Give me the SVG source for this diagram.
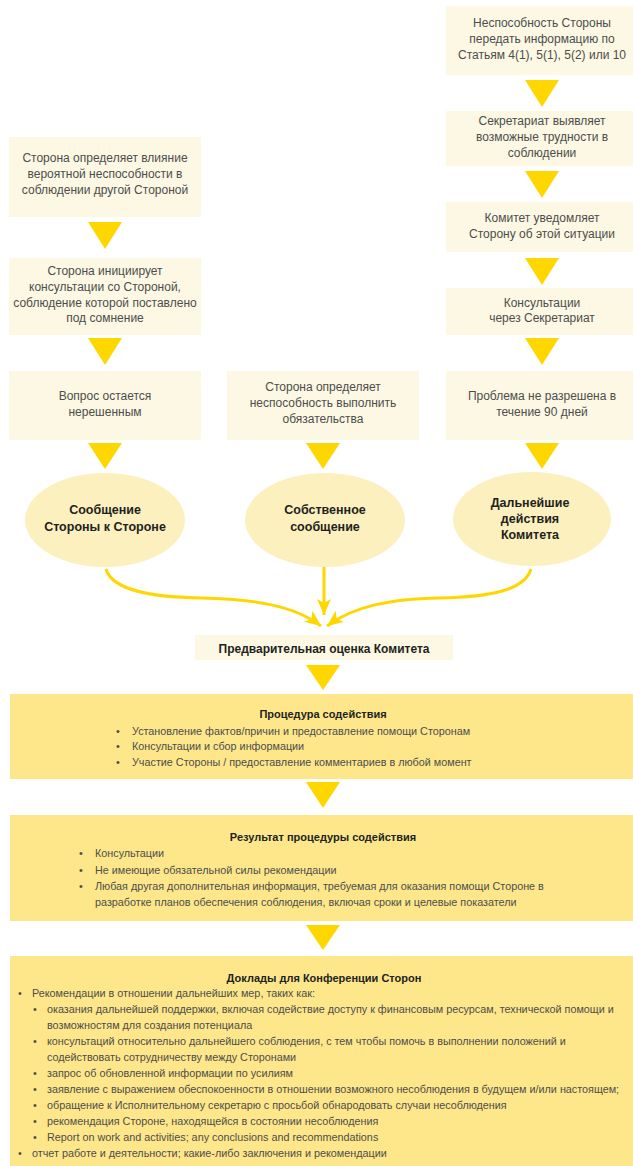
<svg xmlns="http://www.w3.org/2000/svg" width="633" height="1166" viewBox="0 0 633 1166">
<defs>
<style>
.box{fill:#FCF8E3}
.ell{fill:#FBF0BE}
.big{fill:#FDE78A}
.tri{fill:#FFD700}
.t{font-family:"Liberation Sans",Arial,sans-serif;font-size:12px;fill:#4d4d4d;text-anchor:middle}
.b{font-family:"Liberation Sans",Arial,sans-serif;font-size:12.5px;font-weight:bold;fill:#231f20;text-anchor:middle}
.h{font-family:"Liberation Sans",Arial,sans-serif;font-size:11px;font-weight:bold;fill:#231f20;text-anchor:middle}
.l{font-family:"Liberation Sans",Arial,sans-serif;font-size:10.8px;fill:#4d4d4d}
.conn{fill:none;stroke:#FFD700;stroke-width:3}
</style>
<marker id="arr" markerUnits="userSpaceOnUse" markerWidth="18" markerHeight="16" refX="16" refY="7" orient="auto">
<path d="M0,0 L16,7 L0,14 L4,7 Z" fill="#FFD700"/>
</marker>
</defs>
<rect width="633" height="1166" fill="#ffffff"/>

<g id="r1">
<rect class="box" x="446" y="6" width="192" height="69"/>
<text class="t" x="542" y="27">Неспособность Стороны</text>
<text class="t" x="542" y="43">передать информацию по</text>
<text class="t" x="542" y="59">Статьям 4(1), 5(1), 5(2) или 10</text>
</g>
<polygon class="tri" points="525,80 559,80 542,107"/>
<g id="r2">
<rect class="box" x="446" y="111" width="192" height="55"/>
<text class="t" x="542" y="125">Секретариат выявляет</text>
<text class="t" x="542" y="141">возможные трудности в</text>
<text class="t" x="542" y="157">соблюдении</text>
</g>
<polygon class="tri" points="525,171 559,171 542,198"/>
<g id="r3">
<rect class="box" x="446" y="202" width="192" height="50"/>
<text class="t" x="542" y="222">Комитет уведомляет</text>
<text class="t" x="542" y="238">Сторону об этой ситуации</text>
</g>
<polygon class="tri" points="525,258 559,258 542,285"/>
<g id="r4">
<rect class="box" x="446" y="288" width="192" height="47"/>
<text class="t" x="542" y="307">Консультации</text>
<text class="t" x="542" y="322">через Секретариат</text>
</g>
<polygon class="tri" points="525,338 559,338 542,365"/>
<g id="r5">
<rect class="box" x="446" y="371" width="192" height="69"/>
<text class="t" x="542" y="400">Проблема не разрешена в</text>
<text class="t" x="542" y="416">течение 90 дней</text>
</g>
<polygon class="tri" points="525,443 559,443 542,469"/>

<g id="l1">
<rect class="box" x="9" y="137" width="192" height="80"/>
<text class="t" x="105" y="162">Сторона определяет влияние</text>
<text class="t" x="105" y="178">вероятной неспособности в</text>
<text class="t" x="105" y="194">соблюдении другой Стороной</text>
</g>
<polygon class="tri" points="88,222 122,222 105,249"/>
<g id="l2">
<rect class="box" x="9" y="258" width="192" height="77"/>
<text class="t" x="105" y="275">Сторона инициирует</text>
<text class="t" x="105" y="291">консультации со Стороной,</text>
<text class="t" x="105" y="307">соблюдение которой поставлено</text>
<text class="t" x="105" y="322">под сомнение</text>
</g>
<polygon class="tri" points="88,338 122,338 105,365"/>
<g id="l3">
<rect class="box" x="9" y="371" width="192" height="69"/>
<text class="t" x="105" y="400">Вопрос остается</text>
<text class="t" x="105" y="416">нерешенным</text>
</g>
<polygon class="tri" points="88,443 122,443 105,469"/>

<g id="m1">
<rect class="box" x="227" y="371" width="192" height="69"/>
<text class="t" x="323" y="391">Сторона определяет</text>
<text class="t" x="323" y="407">неспособность выполнить</text>
<text class="t" x="323" y="423">обязательства</text>
</g>
<polygon class="tri" points="306,443 340,443 323,469"/>

<g id="e1">
<ellipse class="ell" cx="105" cy="520" rx="80" ry="47"/>
<text class="b" x="105" y="514">Сообщение</text>
<text class="b" x="105" y="531">Стороны к Стороне</text>
</g>
<g id="e2">
<ellipse class="ell" cx="325" cy="520" rx="80" ry="47"/>
<text class="b" x="325" y="514">Собственное</text>
<text class="b" x="325" y="531">сообщение</text>
</g>
<g id="e3">
<ellipse class="ell" cx="532" cy="519" rx="79" ry="47"/>
<text class="b" x="530" y="507">Дальнейшие</text>
<text class="b" x="530" y="523">действия</text>
<text class="b" x="530" y="539">Комитета</text>
</g>

<g id="connectors">
<path class="conn" d="M106,569 C112,590 150,597 200,598 C255,599 295,606 321,626" marker-end="url(#arr)"/>
<path class="conn" d="M531,569 C525,590 490,597 440,598 C390,599 354,606 327,626" marker-end="url(#arr)"/>
<path class="conn" d="M324,567 L324,615" marker-end="url(#arr)"/>
</g>

<g id="prelim">
<rect class="box" x="195" y="635" width="258" height="25"/>
<text class="b" x="324" y="653" style="font-size:12px">Предварительная оценка Комитета</text>
</g>
<polygon class="tri" points="306,665 340,665 323,690"/>

<g id="proc">
<rect class="big" x="10" y="694" width="623" height="85"/>
<text class="h" x="323" y="718">Процедура содействия</text>
<text class="l" x="116" y="735">•</text><text class="l" x="132" y="735">Установление фактов/причин и предоставление помощи Сторонам</text>
<text class="l" x="116" y="750">•</text><text class="l" x="132" y="750">Консультации и сбор информации</text>
<text class="l" x="116" y="766">•</text><text class="l" x="132" y="766">Участие Стороны / предоставление комментариев в любой момент</text>
</g>
<polygon class="tri" points="306,782 340,782 323,808"/>

<g id="result">
<rect class="big" x="10" y="815" width="623" height="106"/>
<text class="h" x="323" y="841">Результат процедуры содействия</text>
<text class="l" x="79" y="857">•</text><text class="l" x="95" y="857">Консультации</text>
<text class="l" x="79" y="874">•</text><text class="l" x="95" y="874">Не имеющие обязательной силы рекомендации</text>
<text class="l" x="79" y="890">•</text><text class="l" x="95" y="890">Любая другая дополнительная информация, требуемая для оказания помощи Стороне в</text>
<text class="l" x="95" y="906">разработке планов обеспечения соблюдения, включая сроки и целевые показатели</text>
</g>
<polygon class="tri" points="306,925 340,925 323,950"/>

<g id="reports">
<rect class="big" x="10" y="956" width="623" height="210"/>
<text class="h" x="324" y="982">Доклады для Конференции Сторон</text>
<text class="l" x="18" y="997">•</text><text class="l" x="32" y="997">Рекомендации в отношении дальнейших мер, таких как:</text>
<text class="l" x="33" y="1013">•</text><text class="l" x="47" y="1013">оказания дальнейшей поддержки, включая содействие доступу к финансовым ресурсам, технической помощи и</text>
<text class="l" x="47" y="1029">возможностям для создания потенциала</text>
<text class="l" x="33" y="1045">•</text><text class="l" x="47" y="1045">консультаций относительно дальнейшего соблюдения, с тем чтобы помочь в выполнении положений и</text>
<text class="l" x="47" y="1061">содействовать сотрудничеству между Сторонами</text>
<text class="l" x="33" y="1077">•</text><text class="l" x="47" y="1077">запрос об обновленной информации по усилиям</text>
<text class="l" x="33" y="1093">•</text><text class="l" x="47" y="1093">заявление с выражением обеспокоенности в отношении возможного несоблюдения в будущем и/или настоящем;</text>
<text class="l" x="33" y="1109">•</text><text class="l" x="47" y="1109">обращение к Исполнительному секретарю с просьбой обнародовать случаи несоблюдения</text>
<text class="l" x="33" y="1125">•</text><text class="l" x="47" y="1125">рекомендация Стороне, находящейся в состоянии несоблюдения</text>
<text class="l" x="33" y="1141">•</text><text class="l" x="47" y="1141">Report on work and activities; any conclusions and recommendations</text>
<text class="l" x="18" y="1157">•</text><text class="l" x="32" y="1157">отчет работе и деятельности; какие-либо заключения и рекомендации</text>
</g>
</svg>
